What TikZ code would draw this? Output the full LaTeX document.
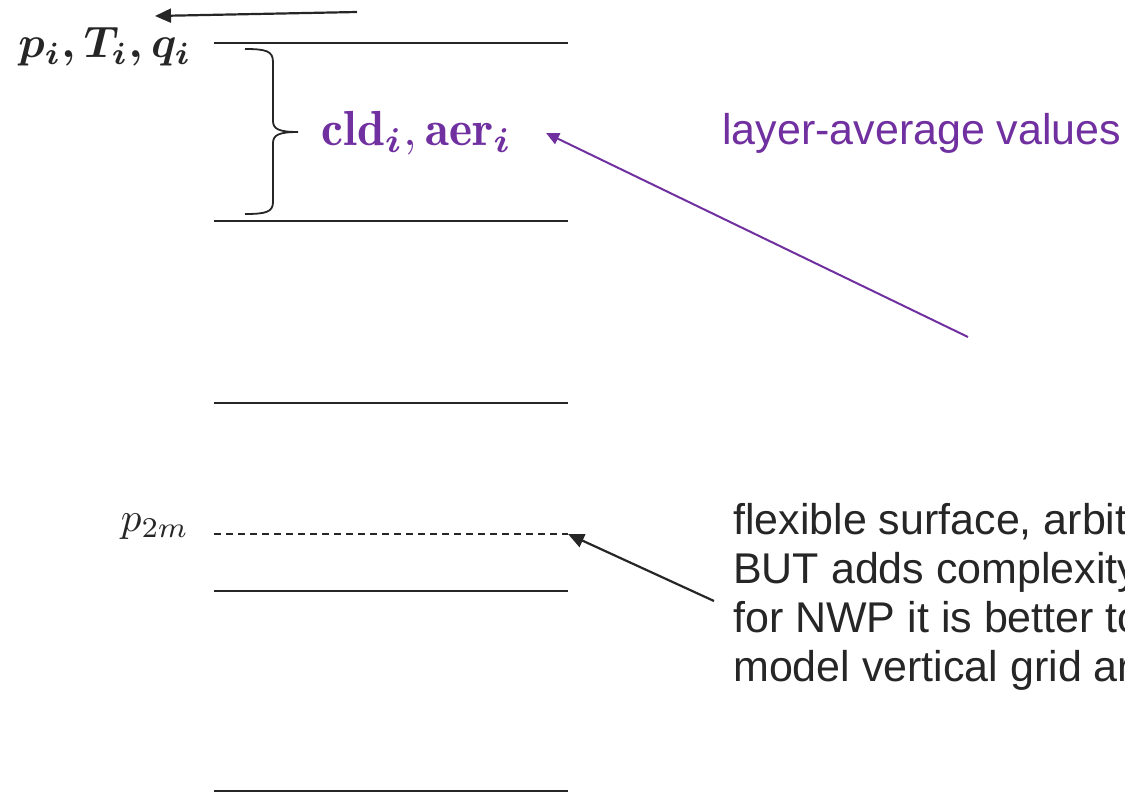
\documentclass[tikz,border=0pt]{standalone}
\usepackage{amsmath,amssymb}
\usepackage{fontspec}
\newfontfamily\arialfont{Liberation Sans}
\usetikzlibrary{arrows.meta}
\definecolor{dPurple}{RGB}{112,48,160}
\definecolor{dGray}{RGB}{38,38,38}

\begin{document}
\begin{tikzpicture}[x=1pt,y=-1pt,
  lvl/.style={draw=dGray,line width=2.2pt},
  half/.style={draw=dGray,line width=1.5pt,dash pattern=on 7pt off 5pt},
  ar/.style={-{Triangle[length=16pt,width=14pt]},line width=2.2pt,dGray},
  par/.style={-{Triangle[length=13pt,width=12pt]},line width=2pt,dPurple},
  note/.style={font=\arialfont\fontsize{43}{49}\selectfont,align=left,anchor=north west,inner sep=0pt},
  big/.style={scale=4.4,inner sep=0pt}]
\useasboundingbox (0,0) rectangle (1125,792);
\clip (0,0) rectangle (1125,792);
% model levels
\foreach \y in {43,221,403,591,791} \draw[lvl] (214,\y) -- (568,\y);
\coordinate (dl) at (214,534);
\coordinate (dr) at (568,534);
\draw[half] (dl) -- (dr);
% labels
\node[big,text=dGray] (ptq) at (105,47) {$\boldsymbol{p_i, T_i, q_i}$};
\node[big,scale=1.12,text=dPurple] (cld) at (417,133) {$\mathbf{cld}_{\boldsymbol{i}},\mathbf{aer}_{\boldsymbol{i}}$};
\node[scale=4.1,text=dGray,inner sep=0pt] (p2m) at (155,527) {$p_{2m}$};
\node[note,text=dPurple] (lav) at (722,113) {layer-average values};
\node[note,text=dGray] (flex) at (733,503) {flexible surface, arbit\\BUT adds complexity\\for NWP it is better to\\model vertical grid ar};
% brace over the layer
\draw[dGray,line width=1.8pt] (245,49) .. controls (266,49) and (273,51) .. (273,62) -- (273,121)
  .. controls (273,129) and (279,132) .. (298,132) .. controls (279,132) and (273,135) .. (273,143)
  -- (273,202) .. controls (273,212) and (266,214) .. (245,214);
% arrows
\coordinate (a1) at (357,12);
\coordinate (a2) at (155,16);
\draw[ar] (a1) -- (a2);
\coordinate (pa) at (968,337);
\draw[par] (pa) -- ([xshift=33pt]cld.east);
\coordinate (fa) at (714,601);
\draw[ar] (fa) -- (dr);
\end{tikzpicture}
\end{document}
